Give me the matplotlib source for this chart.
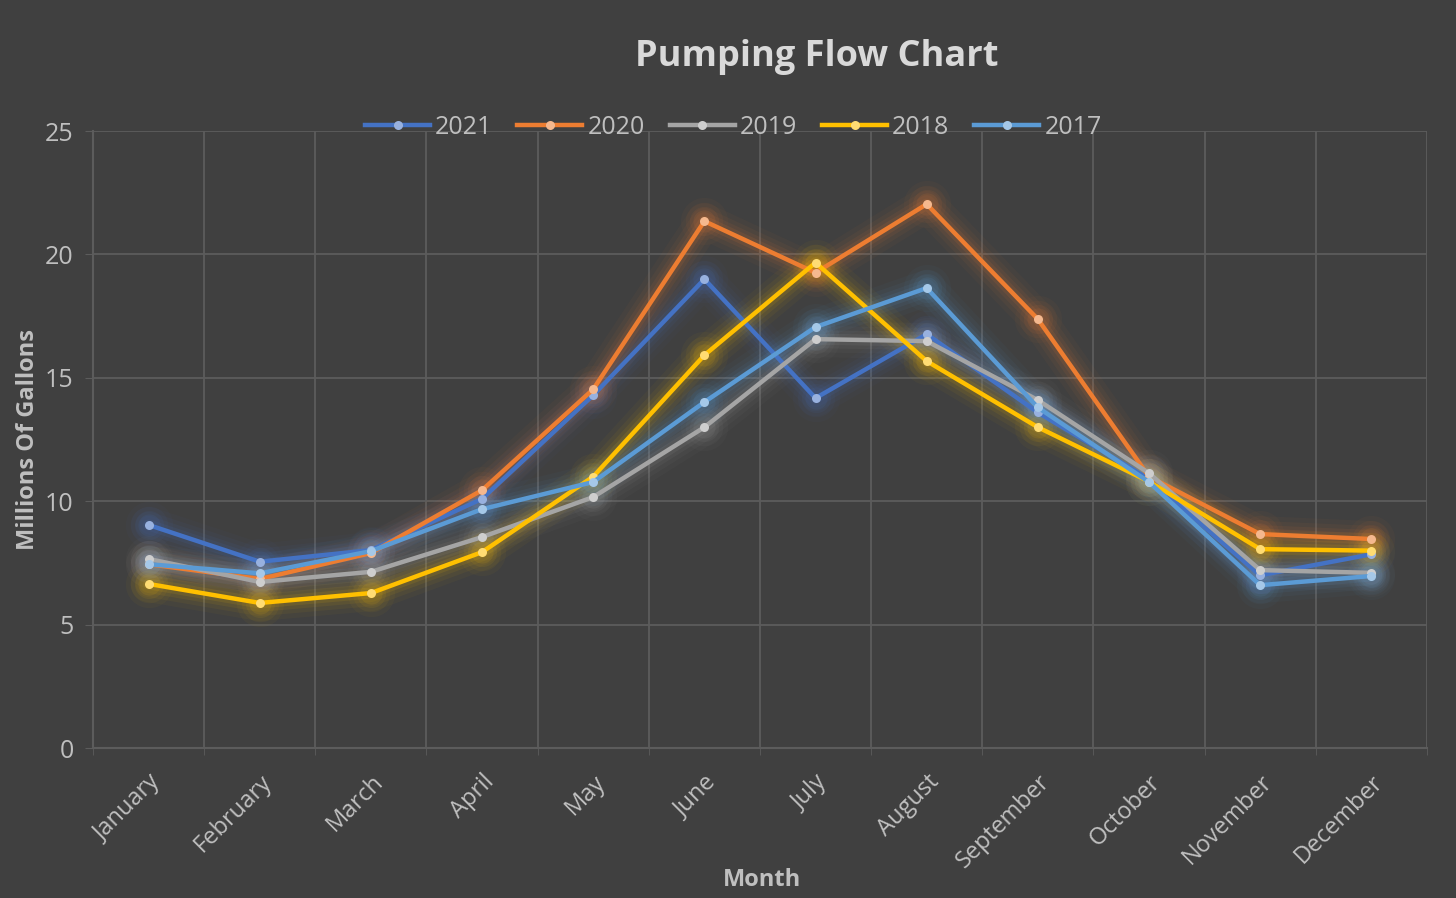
import matplotlib
matplotlib.use("Agg")
import matplotlib.pyplot as plt
import matplotlib.colors as mcolors
import numpy as np

# ── Data ──
months = ["January", "February", "March", "April", "May", "June",
          "July", "August", "September", "October", "November", "December"]
years = ["2021", "2020", "2019", "2018", "2017"]
flow_2021 = [9.04, 7.55, 8.02, 10.1, 14.3, 19.0, 14.18, 16.77, 13.6, 10.9, 7.0, 7.85]
flow_2020 = [7.45, 6.85, 7.9, 10.45, 14.54, 21.35, 19.26, 22.04, 17.38, 11.0, 8.67, 8.47]
flow_2019 = [7.66, 6.73, 7.14, 8.55, 10.17, 13.0, 16.57, 16.49, 14.1, 11.14, 7.21, 7.1]
flow_2018 = [6.65, 5.88, 6.28, 7.94, 11.0, 15.92, 19.67, 15.68, 13.0, 10.8, 8.06, 8.0]
flow_2017 = [7.45, 7.08, 7.98, 9.68, 10.78, 14.02, 17.06, 18.64, 13.8, 10.78, 6.6, 6.97]
series = [flow_2021, flow_2020, flow_2019, flow_2018, flow_2017]
colors = ["#4472C4", "#ED7D31", "#A5A5A5", "#FFC000", "#5B9BD5"]

BG = "#404040"
GRID = "#5c5c5c"
TXT = "#BFBFBF"
plt.rcParams['font.family'] = ['Open Sans', 'DejaVu Sans']

fig = plt.figure(figsize=(14.56, 8.98), dpi=100, facecolor=BG)
ax = fig.add_axes([0.0639, 0.167, 0.9161, 0.687], facecolor=BG)

x = np.arange(len(months))


def tint(c, f=0.45):
    r, g, b = mcolors.to_rgb(c)
    return (r + (1 - r) * f, g + (1 - g) * f, b + (1 - b) * f)


# soft glow behind every series (later series drawn on top, like Excel)
for i, (vals, col) in enumerate(zip(series, colors)):
    for lw, a in [(26, 0.035), (19, 0.05), (13, 0.07), (8, 0.1)]:
        ax.plot(x, vals, color=col, lw=lw, alpha=a, solid_capstyle='round',
                solid_joinstyle='round', zorder=2)
        ax.plot(x, vals, 'o', color=col, ms=lw + 8, alpha=a, mec='none', zorder=2)
for i, (vals, col) in enumerate(zip(series, colors)):
    ax.plot(x, vals, color=col, lw=3.2, solid_joinstyle='round', zorder=3 + i,
            marker='o', ms=6.5, mfc=tint(col), mec='none', label=years[i])

ax.set_xlim(-0.5, len(months) - 0.5)
ax.set_ylim(0, 25)
ax.set_yticks(np.arange(0, 26, 5))
ax.set_xticks(x)
ax.set_xticklabels(months, rotation=45, ha='right', rotation_mode='anchor',
                   fontsize=17, color=TXT)
ax.set_xticks(np.arange(-0.5, len(months), 1), minor=True)
ax.tick_params(axis='x', which='major', length=0, pad=16)
ax.tick_params(axis='x', which='minor', length=5, color=GRID)
ax.tick_params(axis='y', length=6, color=GRID, labelsize=18, labelcolor=TXT, pad=8)

ax.grid(True, axis='y', color=GRID, lw=1.3)
ax.grid(True, axis='x', which='minor', color=GRID, lw=1.3)
ax.set_axisbelow(True)
for s in ['top', 'right']:
    ax.spines[s].set_visible(False)
for s in ['left', 'bottom']:
    ax.spines[s].set_color(GRID)
    ax.spines[s].set_linewidth(1.5)

ax.set_xlabel("Month", fontsize=17, fontweight='bold', color=TXT)
ax.xaxis.set_label_coords(0.5015, -0.195)
ax.set_ylabel("Millions Of Gallons", fontsize=17, fontweight='bold', color=TXT)
ax.yaxis.set_label_coords(-0.040, 0.5)
fig.text(0.561, 0.936, "Pumping Flow Chart", fontsize=26, fontweight='bold',
         color="#D9D9D9", ha='center', va='center')

handles, labels = ax.get_legend_handles_labels()
leg = ax.legend(handles, labels, loc='center', bbox_to_anchor=(0.48, 1.006),
                ncol=5, frameon=False, fontsize=18, handlelength=2.6, columnspacing=1.0,
                handletextpad=0.2, labelcolor=TXT)

fig.savefig("out.png", dpi=100, facecolor=BG)
